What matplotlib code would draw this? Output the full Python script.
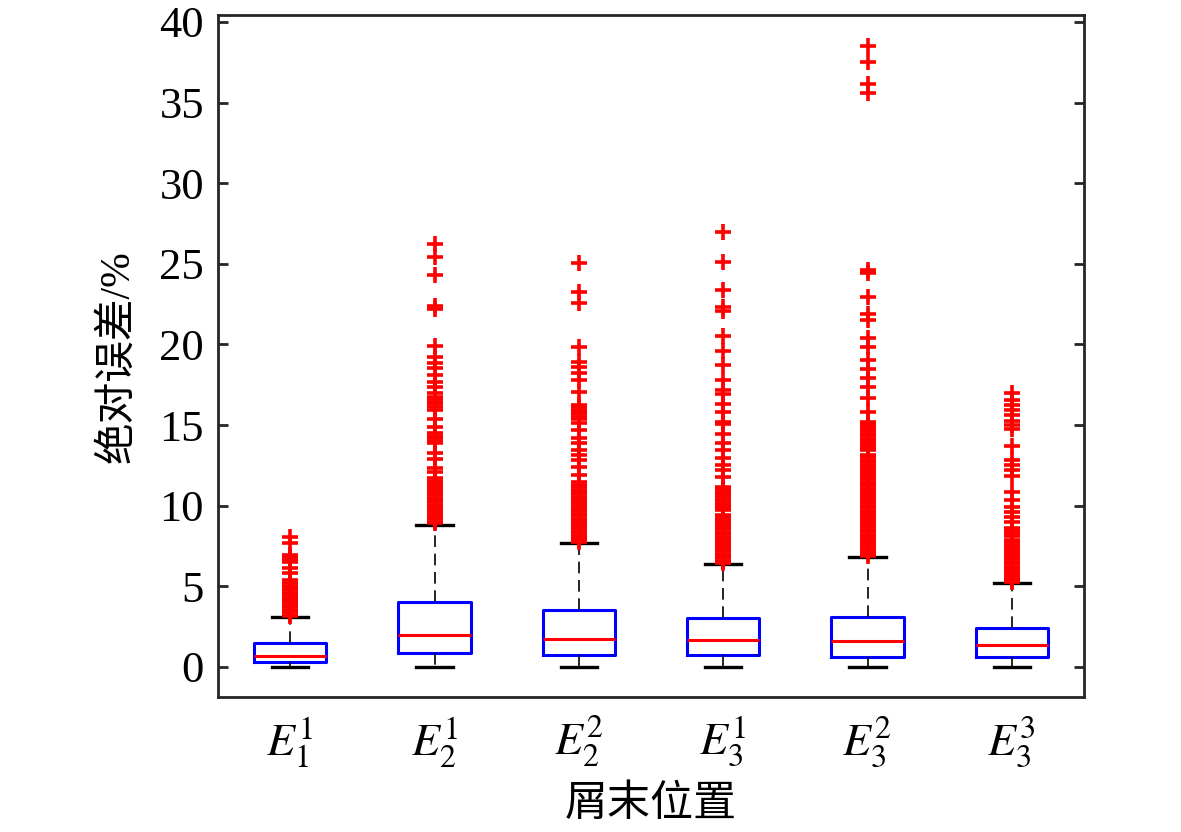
import matplotlib
matplotlib.use("Agg")
import matplotlib.pyplot as plt

plt.rcParams['font.family'] = ['Liberation Serif', 'Noto Sans CJK SC']
plt.rcParams['mathtext.fontset'] = 'stix'

# ---------------- data ----------------
labels = [r'$E_1^1$', r'$E_2^1$', r'$E_2^2$', r'$E_3^1$', r'$E_3^2$', r'$E_3^3$']
q1 = [0.31, 0.85, 0.74, 0.77, 0.64, 0.60]
med = [0.66, 1.96, 1.72, 1.67, 1.59, 1.34]
q3 = [1.47, 4.03, 3.53, 3.06, 3.12, 2.42]
whislo = [0.0, 0.0, 0.0, 0.0, 0.0, 0.0]
whishi = [3.10, 8.81, 7.69, 6.39, 6.80, 5.23]

fliers1 = [8.04, 7.71, 6.94, 6.80, 6.65, 6.50, 6.12, 5.81, 5.40, 5.19, 5.05, 4.90,
           4.75, 4.60, 4.45, 4.30, 4.15, 4.00, 3.85, 3.70, 3.55, 3.40, 3.25, 3.15]
fliers2 = [26.23, 25.45, 24.31, 22.39, 22.22, 19.90, 19.25, 18.87, 18.52, 18.11,
           17.69, 17.38, 16.97, 16.76, 16.60, 16.45, 16.30, 16.14, 15.94, 15.36,
           14.90, 14.49, 14.33, 14.18, 14.03, 13.87, 13.25, 12.88, 12.32, 12.11,
           11.70, 11.55, 11.40, 11.25, 11.10, 10.95, 10.80, 10.65, 10.50, 10.35,
           10.20, 10.05, 9.90, 9.75, 9.60, 9.45, 9.30, 9.15, 9.00, 8.90]
fliers3 = [25.03, 23.28, 22.55, 19.87, 18.93, 18.62, 18.21, 17.80, 17.07, 16.25,
           16.10, 15.95, 15.83, 15.67, 15.52, 15.35, 15.11, 14.70, 14.18, 13.87,
           13.46, 13.15, 12.84, 12.42, 11.91, 11.45, 11.30, 11.15, 11.00, 10.85,
           10.70, 10.55, 10.40, 10.25, 10.10, 9.95, 9.80, 9.65, 9.50, 9.35, 9.20,
           9.05, 8.90, 8.75, 8.60, 8.45, 8.30, 8.15, 8.00, 7.85, 7.75]
fliers4 = [27.00, 25.14, 23.38, 22.30, 22.10, 20.53, 19.62, 18.73, 17.80, 17.15,
           16.95, 16.31, 15.79, 15.20, 15.05, 14.45, 13.87, 13.46, 12.94, 12.53,
           12.22, 11.80, 11.18, 11.03, 10.88, 10.73, 10.58, 10.43, 10.28, 10.13,
           9.98, 9.84, 9.74, 9.43, 9.28, 9.13, 8.98, 8.83, 8.68, 8.53, 8.38, 8.23,
           8.08, 7.93, 7.78, 7.63, 7.48, 7.33, 7.18, 7.03, 6.88, 6.73, 6.58, 6.45]
fliers5 = [38.50, 37.50, 36.16, 35.60, 24.62, 24.41, 22.93, 21.89, 21.52, 20.42,
           19.87, 19.04, 18.46, 17.90, 17.38, 16.66, 15.83, 15.21, 15.06, 14.91,
           14.76, 14.61, 14.46, 14.31, 14.16, 14.01, 13.86, 13.71, 13.56, 13.46,
           13.15, 13.00, 12.85, 12.70, 12.55, 12.40, 12.25, 12.10, 11.95, 11.80,
           11.65, 11.50, 11.35, 11.20, 11.05, 10.90, 10.75, 10.60, 10.45, 10.30,
           10.15, 10.00, 9.85, 9.70, 9.55, 9.40, 9.25, 9.10, 8.95, 8.80, 8.65,
           8.50, 8.35, 8.20, 8.05, 7.90, 7.75, 7.60, 7.45, 7.30, 7.15, 7.00, 6.90]
fliers6 = [16.97, 16.56, 16.25, 15.94, 15.63, 15.28, 15.01, 14.74, 13.70, 12.84,
           12.53, 12.22, 11.85, 10.87, 10.36, 9.94, 9.63, 9.32, 9.01, 8.60, 8.45,
           8.30, 8.15, 7.88, 7.73, 7.58, 7.43, 7.28, 7.13, 6.98, 6.83, 6.68, 6.53,
           6.38, 6.23, 6.08, 5.93, 5.78, 5.63, 5.48, 5.35, 5.28]
fliers = [fliers1, fliers2, fliers3, fliers4, fliers5, fliers6]

# ---------------- figure ----------------
fig = plt.figure(figsize=(11.81, 8.32), dpi=100)
ax = fig.add_axes([0.1846, 0.1623, 0.7333, 0.8197])

stats = []
for i in range(len(labels)):
    stats.append(dict(q1=q1[i], med=med[i], q3=q3[i], whislo=whislo[i],
                      whishi=whishi[i], fliers=fliers[i], label=labels[i]))

ax.bxp(stats, positions=range(1, len(labels) + 1), widths=0.5, capwidths=0.25,
       showfliers=True,
       boxprops=dict(color='#0000ff', linewidth=2.2),
       medianprops=dict(color='#ff0000', linewidth=2.2),
       whiskerprops=dict(color='black', linewidth=1.2, linestyle=(0, (7, 4))),
       capprops=dict(color='black', linewidth=2.4),
       flierprops=dict(marker='+', markeredgecolor='#ff0000', markersize=12,
                       markeredgewidth=2.6, linestyle='none'))

ax.set_xlim(0.5, 6.5)
ax.set_ylim(-1.86, 40.43)
ax.set_yticks([0, 5, 10, 15, 20, 25, 30, 35, 40])

for s in ax.spines.values():
    s.set_color('#262626')
    s.set_linewidth(2.0)

ax.tick_params(axis='y', direction='in', length=7, width=2, color='#262626',
               right=True, labelsize=32, pad=10, labelcolor='black')
ax.tick_params(axis='x', length=0, labelsize=33, pad=13, labelcolor='black')

fig.text(0.1, 0.571, '绝对误差/%', rotation=90, ha='center', va='center',
         fontsize=30)
fig.text(0.551, 0.032, '屑末位置', ha='center', va='center', fontsize=31)

fig.savefig('out.png', dpi=100)
